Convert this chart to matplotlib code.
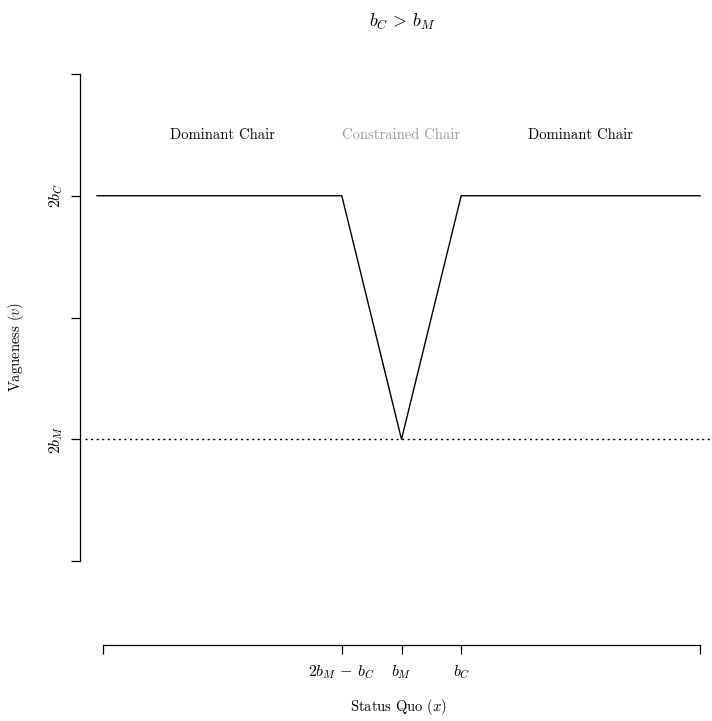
import matplotlib
matplotlib.use("Agg")
import matplotlib.pyplot as plt

plt.rcParams['font.family'] = 'serif'
plt.rcParams['font.serif'] = ['cmr10']
plt.rcParams['mathtext.fontset'] = 'cm'
plt.rcParams['axes.unicode_minus'] = False
plt.rcParams['axes.formatter.use_mathtext'] = True

# the vagueness curve
xs = [-0.1, 4, 5, 6, 10]
vs = [3, 3, 1, 3, 3]

xticks = [0, 4, 5, 6, 10]
xticklabels = ['', r'$2b_M \,-\, b_C$', r'$b_M$', r'$b_C$', '']
yticks = [0, 1, 2, 3, 4]
yticklabels = ['', r'$2b_M$', '', r'$2b_C$', '']

regions = ['Dominant Chair', 'Constrained Chair', 'Dominant Chair']
region_x = [2, 5, 8]
region_col = ['black', '#999999', 'black']

W, H = 712, 721
fig = plt.figure(figsize=(W / 100, H / 100), dpi=100)
# axes box in pixels: left 85, right 712, top 60, bottom 645
ax = fig.add_axes([85 / W, (H - 645) / H, (712 - 85) / W, (645 - 60) / H])

px = 59.7  # pixels per x unit, x=0 at 103px
ax.set_xlim((85 - 103) / px, (712 - 103) / px)
py = 121.75  # pixels per y unit, y=0 at 561px
ax.set_ylim(-(645 - 561) / py, (561 - 60) / py)

ax.plot(xs, vs, color='black', lw=1)
ax.axhline(1, color='black', lw=1, ls=(0, (1.5, 2.5)))

for lab, x, c in zip(regions, region_x, region_col):
    ax.text(x, 3.5, lab, ha='center', va='center', color=c, fontsize=10.5)

for s in ['top', 'right']:
    ax.spines[s].set_visible(False)
ax.spines['left'].set_position(('outward', 3.6))
ax.spines['left'].set_bounds(0, 4)
ax.spines['bottom'].set_bounds(0, 10)
for s in ['left', 'bottom']:
    ax.spines[s].set_linewidth(0.9)

ax.set_xticks(xticks)
ax.set_xticklabels(xticklabels, fontsize=11.5)
ax.set_yticks(yticks)
ax.set_yticklabels(yticklabels, fontsize=11.5, rotation=90, va='center')
ax.tick_params(direction='out', length=6.5, width=0.9)
ax.tick_params(axis='x', pad=7)
ax.tick_params(axis='y', pad=4)

ax.set_xlabel(r'Status Quo ($x$)', fontsize=10.5, labelpad=11)
ax.set_ylabel(r'Vagueness ($v$)', fontsize=10.5)
ax.yaxis.set_label_coords((26 - 85) / 627, (645 - 347) / 585)

fig.text(402 / W, 1 - 22 / H, r'$b_C \,>\, b_M$', ha='center', va='center', fontsize=13)

fig.savefig('out.png', dpi=100)
